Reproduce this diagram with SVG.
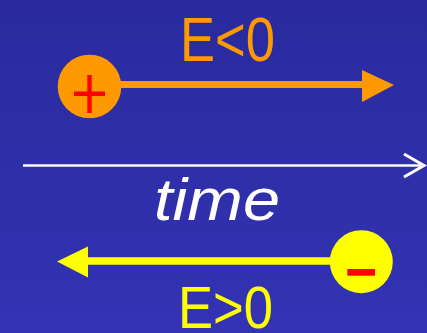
<svg xmlns="http://www.w3.org/2000/svg" width="427" height="333" viewBox="0 0 427 333">
  <defs>
    <linearGradient id="bg" x1="0" y1="0" x2="0" y2="1">
      <stop offset="0" stop-color="#2a2a9e"/>
      <stop offset="1" stop-color="#3333b4"/>
    </linearGradient>
  </defs>
  <style>
    .lbl { font-family: "Liberation Sans", Arial, sans-serif; font-size: 63px; }
    .lbl-low { font-size: 60px; }
    .time { font-family: "Liberation Sans", Arial, sans-serif; font-size: 60px; font-style: italic; fill: #ffffff; }
  </style>
  <rect width="427" height="333" fill="url(#bg)"/>

  <g id="connectors">
    <!-- positive charge path, forward -->
    <line x1="118" y1="84.5" x2="364" y2="84.5" stroke="#ff9900" stroke-width="7"/>
    <polygon points="362,70 394,85 362,102" fill="#ff9900"/>
    <!-- time axis -->
    <line x1="23" y1="165.5" x2="422" y2="165.5" stroke="#ffffff" stroke-width="2.5"/>
    <polyline points="404,154 424,165.5 404,177" fill="none" stroke="#ffffff" stroke-width="3"/>
    <!-- negative charge path, backward -->
    <line x1="86" y1="261" x2="334" y2="261" stroke="#ffff00" stroke-width="7.5"/>
    <polygon points="88,246.5 57,261.5 88,277.5" fill="#ffff00"/>
  </g>

  <g id="positive">
    <circle cx="89.5" cy="86.5" r="31.8" fill="#ff9900"/>
    <rect x="74" y="91.5" width="31" height="4.5" fill="#ff0000"/>
    <rect x="87.3" y="75" width="4.4" height="38" fill="#ff0000"/>
  </g>

  <g id="negative">
    <circle cx="361.3" cy="261.7" r="31.5" fill="#ffff00"/>
    <rect x="347.3" y="269" width="27.7" height="6.7" fill="#ff0000"/>
  </g>

  <g id="labels">
    <text class="lbl" x="180" y="60.5" fill="#ff9900" textLength="95" lengthAdjust="spacingAndGlyphs">E&lt;0</text>
    <text class="time" x="154" y="220" textLength="126" lengthAdjust="spacingAndGlyphs">time</text>
    <text class="lbl lbl-low" x="178" y="327.5" fill="#ffff00" textLength="95" lengthAdjust="spacingAndGlyphs">E&gt;0</text>
  </g>
</svg>
